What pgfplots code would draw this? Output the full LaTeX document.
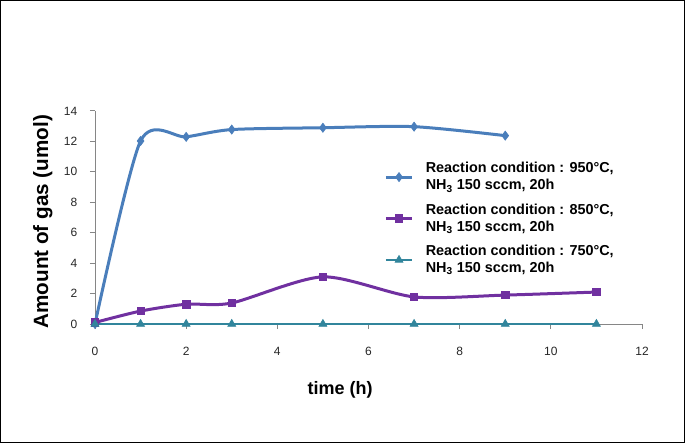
\documentclass[border=0pt]{standalone}
\usepackage{pgfplots}
\pgfplotsset{compat=1.18}
\usepackage{fontspec}
\setmainfont{Liberation Sans}
\definecolor{cblue}{HTML}{4A7EBB}
\definecolor{cpurple}{HTML}{7030A0}
\definecolor{cteal}{HTML}{31859C}
\definecolor{axgray}{HTML}{868686}
\begin{document}
\begin{tikzpicture}
\path[use as bounding box] (0,0) rectangle (513.75pt,332.25pt);
\draw[black, line width=0.75pt] (0.375pt,0.375pt) rectangle (513.375pt,331.875pt);
\begin{axis}[
  at={(71.25pt,89.25pt)}, anchor=south west, scale only axis,
  width=410.25pt, height=159.75pt,
  xmin=0, xmax=12, ymin=0, ymax=14,
  xtick={0,2,...,12}, ytick={0,2,...,14},
  axis x line*=bottom, axis y line*=left,
  axis line style={axgray, -, line width=0.75pt},
  tick align=outside, major tick length=3.75pt,
  tick style={axgray, line width=0.75pt},
  ticklabel style={font=\fontsize{9}{10}\selectfont, text=black!85},
  xticklabel style={yshift=-10pt},
  yticklabel style={xshift=-6pt},
  /pgf/number format/assume math mode=true,
  xlabel={time (h)}, ylabel={Amount of gas (umol)},
  xlabel style={font=\bfseries\fontsize{13.5}{15}\selectfont, at={(axis description cs:0.448,-0.31)}, anchor=center},
  ylabel style={font=\bfseries\fontsize{15.5}{17}\selectfont, at={(axis description cs:-0.0952,0.48)}, anchor=center},
  legend cell align=left,
  legend style={at={(rel axis cs:0.521,0.785)}, anchor=north west, draw=none, fill=none,
    font=\bfseries\fontsize{10.8}{12.75}\selectfont, nodes={align=left}, row sep=5pt, column sep=7pt},
  legend image code/.code={\draw[mark repeat=2,mark phase=2,#1] plot coordinates {(0cm,0cm)(0.35cm,0cm)(0.7cm,0cm)};},
  clip=false,
]
\addplot[cblue, line width=2.25pt, smooth, tension=0.45, mark=diamond*, mark size=3.4pt, mark options={line width=0.5pt}]
  coordinates {(0,0) (1,12.03) (2,12.3) (3,12.78) (5,12.9) (7,12.97) (9,12.38)};
\addlegendentry{Reaction condition : 950°C,\\NH\textsubscript{3} 150 sccm, 20h}
\addplot[cpurple, line width=2.25pt, smooth, tension=0.45, mark=square*, mark size=2.8pt, mark options={line width=0.5pt}]
  coordinates {(0,0.1) (1,0.85) (2,1.3) (3,1.38) (5,3.1) (7,1.78) (9,1.9) (11,2.1)};
\addlegendentry{Reaction condition : 850°C,\\NH\textsubscript{3} 150 sccm, 20h}
\addplot[cteal, line width=2pt, mark=triangle*, mark size=3.4pt, mark options={line width=0.5pt}]
  coordinates {(0,0) (1,0) (2,0) (3,0) (5,0) (7,0) (9,0) (11,0)};
\addlegendentry{Reaction condition : 750°C,\\NH\textsubscript{3} 150 sccm, 20h}
\end{axis}
\end{tikzpicture}
\end{document}
